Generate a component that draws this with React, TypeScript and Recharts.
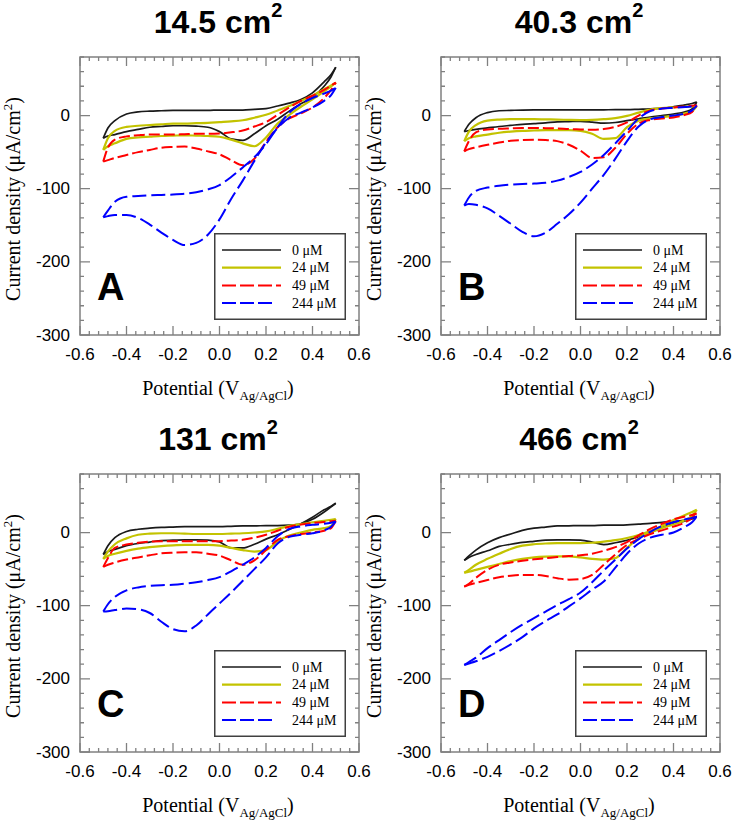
import React from "react";
import { LineChart, Line, XAxis, YAxis, Legend, Label } from "recharts";

// shared potential grid (V vs Ag/AgCl) for both sweep directions
const POTENTIAL = [
  -0.5, -0.48, -0.45, -0.4, -0.35, -0.3, -0.25, -0.2, -0.15, -0.1, -0.05, 0,
  0.05, 0.1, 0.15, 0.2, 0.25, 0.3, 0.35, 0.4, 0.45, 0.48, 0.5,
];

// current density (µA/cm²), anodic = forward sweep, cathodic = reverse sweep
// A: 14.5 cm2
const A0_AN = [-31, -17, -7, 2, 5, 6, 6.5, 7, 7, 7, 7, 7.5, 7.5, 7.5, 8.5, 9.5, 13, 17, 22, 31, 46, 56, 66];
const A0_CA = [-31, -28, -26, -22, -19, -16, -15, -14, -14, -14.5, -16, -22, -32, -34, -25, -14, -5, 6, 16, 25, 40, 53, 66];
const A24_AN = [-47, -31, -21, -15.5, -14, -13, -12, -11, -11, -10.5, -10, -9, -8, -6.5, -3, 1, 7, 13, 20, 27, 36, 41, 45];
const A24_CA = [-47, -42, -38, -32, -30, -29, -28, -27.5, -27, -27.5, -28, -29, -33, -38, -42, -30, -11, 1, 12, 22, 33, 40, 45];
const A49_AN = [-63, -44, -33, -28.5, -27, -26, -26, -26, -25.5, -25, -25, -24.5, -23, -20.5, -15, -9, 1, 11, 20, 27, 35, 41, 45];
const A49_CA = [-63, -61, -58, -54, -50, -47, -44, -43, -42.5, -45, -49, -53, -61, -68, -59, -36, -16, -4, 3, 11, 24, 35, 45];
const A244_AN = [-139, -130, -118, -111, -110, -109, -108.5, -108, -107, -105, -101, -95, -84, -71, -57, -39, -16, 4, 16, 24, 30, 34, 38];
const A244_CA = [-139, -137.5, -136, -136, -140, -149, -160, -170, -177, -174, -163, -142, -114, -89, -62, -37, -17, -3, 4, 11, 20, 28, 38];

// B: 40.3 cm2
const B0_AN = [-22, -12, -3, 4, 6.5, 7, 7.5, 7.7, 7.7, 7.7, 7.7, 7.7, 7.7, 7.8, 8, 8, 8.5, 9, 10, 12, 14.5, 16.5, 18.5];
const B0_CA = [-22, -20.5, -19, -17, -15, -13.5, -12, -11, -10, -8.6, -8.3, -8, -9, -10.5, -9.5, -7, -4.5, -2, 0, 2, 5, 9, 18.5];
const B24_AN = [-35, -22, -13, -7, -5.5, -5, -5, -5, -5.3, -5.5, -6, -6.3, -6, -5, -3.5, -0.5, 4, 8, 10, 11, 12, 12.5, 13];
const B24_CA = [-35, -31, -28.5, -26, -23.5, -22, -21, -20.5, -20, -20, -20, -21, -25, -32, -31, -16, -7, -4, -2, -0.5, 3, 6, 13];
const B49_AN = [-49, -35, -23, -19, -18, -17.5, -17, -17, -17.3, -17.7, -18.5, -19, -19.5, -18.5, -15.5, -9.5, 0, 7, 9.5, 11, 12.5, 13.5, 14];
const B49_CA = [-49, -46, -43.5, -40, -37, -34.5, -33.5, -33, -33.5, -35, -40, -48, -58, -57, -44, -25, -11, -6, -4, -2.7, 1, 5, 14];
const B244_AN = [-123, -112, -103, -98.5, -96, -94.5, -93.5, -93, -92, -89, -84, -77, -67, -54, -38, -21, -4, 6, 9.5, 10.5, 11.5, 12.5, 13.6];
const B244_CA = [-123, -121, -122, -127, -137, -148, -159, -165, -160, -148, -135, -119, -100, -81, -59, -35, -15, -5, -2, 0, 3, 7, 13.6];

// C: 131 cm2
const C0_AN = [-30, -18, -7, 1.5, 4.5, 6, 7, 7.5, 8, 8, 8, 8, 8.5, 9, 9, 9.5, 9.5, 10, 12, 18, 28, 35, 40];
const C0_CA = [-30, -26, -23, -18, -15, -13, -11, -10.5, -10, -10, -10.5, -13, -21, -21, -16, -9, -3, 4, 12, 21, 31, 36, 40];
const C24_AN = [-36, -26, -16, -8, -3, -1.5, -1, -1, -1.5, -2, -2, -2, -1.5, -1, 0, 1.5, 5, 9, 11.5, 14, 16, 17.5, 18.6];
const C24_CA = [-36, -32, -29, -25, -22, -20, -18.5, -17.5, -17, -17, -17, -18, -21, -24, -26, -24, -12, -4, 0, 3.6, 6, 9, 18.6];
const C49_AN = [-47, -35, -21, -16.5, -14, -12.5, -12, -12, -12, -12, -12, -11.8, -11, -10, -7, -3, 2.5, 8, 11, 13, 14.5, 15.5, 16];
const C49_CA = [-47, -44, -41, -37, -34, -31, -28.5, -27.5, -27, -27, -29, -31.5, -38, -44, -38, -24, -10, -5, -2, 0, 2.5, 6, 16];
const C244_AN = [-108, -98, -88, -79, -75, -73, -72, -71.5, -70, -68, -65, -61, -53, -44, -34, -21, -5, 5, 8.5, 10.5, 12, 13.5, 15];
const C244_CA = [-108, -107.5, -106, -104, -105, -110, -122, -132, -135, -127, -112, -97, -82, -66, -50, -34, -15, -6, -3, -1, 3, 8, 15];

// D: 466 cm2
const D0_AN = [-38, -32, -24, -14, -7, -2, 3, 6, 7.5, 9, 9.2, 9.5, 9.5, 10, 10, 10.5, 11.5, 12.5, 14, 15, 17, 19, 22];
const D0_CA = [-38, -34, -30, -25, -19, -16, -13.5, -12, -10.5, -10, -10, -10.5, -13, -16.5, -14, -10.5, -6, 0, 7, 12, 16, 19, 22];
const D24_AN = [-55, -51, -44, -36, -29, -22.5, -18, -16, -15, -14.5, -14.5, -14.5, -14, -12.5, -10.5, -7.5, -3.5, 2, 9, 17, 24, 28, 31];
const D24_CA = [-55, -53.5, -51, -47, -43, -39, -36, -34, -33, -32.6, -32.6, -34, -36, -37, -35, -21, -8, 0, 6, 11, 17, 23, 31];
const D49_AN = [-74, -70, -62, -51, -44, -41, -38.5, -36.5, -35, -33.6, -32, -31, -29, -25, -20, -13, -4, 5, 12, 18, 22, 24, 26];
const D49_CA = [-74, -71.5, -69, -65, -61, -59, -58, -58, -59.5, -62.5, -64.4, -63.5, -58, -44, -30, -17, -9, -2, 3, 8, 14, 20, 26];
const D244_AN = [-181, -177, -171, -158, -147, -136, -126, -117, -108, -99, -91, -82, -68, -52, -37, -22, -9, 1, 9, 14, 18, 20, 22];
const D244_CA = [-181, -179, -176, -170, -162, -153, -143, -131, -121, -112, -101, -90, -78, -67, -48, -29, -15, -7, -3, 0, 8, 14, 22];

const SERIES = [
  { label: "0 μM", color: "#1a1a1a", width: 1.7, dash: undefined, legendDash: undefined },
  { label: "24 μM", color: "#c3c300", width: 2.2, dash: undefined, legendDash: undefined },
  { label: "49 μM", color: "#ff0000", width: 2, dash: "11 4", legendDash: "14 4" },
  { label: "244 μM", color: "#0000ff", width: 2, dash: "14 5", legendDash: "14 4" },
];

const PANELS = [
  { letter: "A", title: "14.5", left: 0, top: 0, sweeps: [[A0_AN, A0_CA], [A24_AN, A24_CA], [A49_AN, A49_CA], [A244_AN, A244_CA]] },
  { letter: "B", title: "40.3", left: 361, top: 0, sweeps: [[B0_AN, B0_CA], [B24_AN, B24_CA], [B49_AN, B49_CA], [B244_AN, B244_CA]] },
  { letter: "C", title: "131", left: 0, top: 417, sweeps: [[C0_AN, C0_CA], [C24_AN, C24_CA], [C49_AN, C49_CA], [C244_AN, C244_CA]] },
  { letter: "D", title: "466", left: 361, top: 417, sweeps: [[D0_AN, D0_CA], [D24_AN, D24_CA], [D49_AN, D49_CA], [D244_AN, D244_CA]] },
];

const X_DOMAIN = [-0.6, 0.6];
const Y_DOMAIN = [-300, 80];
const X_TICKS = Array.from({ length: 31 }, (_, i) => Math.round((-0.6 + i * 0.04) * 100) / 100);
const Y_TICKS = Array.from({ length: 20 }, (_, i) => -300 + i * 20);

const CHART_W = 380;
const CHART_H = 411;
const PLOT_LEFT = 80;
const PLOT_TOP = 57;
const PLOT_W = 279;
const PLOT_H = 278;
const FRAME = "#808080";
const SANS = "'Liberation Sans', Arial, sans-serif";
const SERIF = "'Liberation Serif', 'Times New Roman', serif";

const isMajorX = (v: number) => Math.abs(v * 5 - Math.round(v * 5)) < 1e-6;
const isMajorY = (v: number) => v % 100 === 0;

function XTickLabel(props: any) {
  const { x, y, payload } = props;
  const v = Number(payload.value);
  if (!isMajorX(v)) return <g />;
  return (
    <text x={x} y={Number(y) + 19} textAnchor="middle" dominantBaseline="central" fontFamily={SANS} fontSize={17} fill="#000">
      {v.toFixed(1)}
    </text>
  );
}

function YTickLabel(props: any) {
  const { x, y, payload } = props;
  const v = Number(payload.value);
  if (!isMajorY(v)) return <g />;
  return (
    <text x={Number(x) - 10} y={y} textAnchor="end" dominantBaseline="central" fontFamily={SANS} fontSize={17} fill="#000">
      {v}
    </text>
  );
}

// boxed frame with inward ticks on all four sides, laid over the plot area
function Frame() {
  const px = (v: number) => 1 + ((v - X_DOMAIN[0]) / (X_DOMAIN[1] - X_DOMAIN[0])) * PLOT_W;
  const py = (i: number) => 1 + ((Y_DOMAIN[1] - i) / (Y_DOMAIN[1] - Y_DOMAIN[0])) * PLOT_H;
  let d = "";
  X_TICKS.forEach((v) => {
    const x = px(v);
    const len = isMajorX(v) ? 9 : 4;
    d += `M${x},${1 + PLOT_H}V${1 + PLOT_H - len}M${x},1V${1 + len}`;
  });
  Y_TICKS.forEach((i) => {
    const y = py(i);
    const len = isMajorY(i) ? 10 : 4;
    d += `M1,${y}H${1 + len}M${1 + PLOT_W},${y}H${1 + PLOT_W - len}`;
  });
  return (
    <svg
      width={PLOT_W + 2}
      height={PLOT_H + 2}
      style={{ position: "absolute", left: PLOT_LEFT - 1, top: PLOT_TOP - 1, overflow: "visible", pointerEvents: "none" }}
    >
      <path d={d} stroke={FRAME} strokeWidth={1.3} fill="none" />
      <rect x={1} y={1} width={PLOT_W} height={PLOT_H} fill="none" stroke={FRAME} strokeWidth={1.5} />
    </svg>
  );
}

function LegendBox() {
  return (
    <svg width={132} height={87} style={{ display: "block" }}>
      <rect x={0.75} y={0.75} width={130.5} height={85.5} fill="#fff" stroke="#404040" strokeWidth={1.5} />
      {SERIES.map((s, i) => {
        const cy = 17 + i * 17.7;
        return (
          <g key={s.label}>
            <line x1={8} x2={i === 3 ? 61 : 67} y1={cy} y2={cy} stroke={s.color} strokeWidth={s.width} strokeDasharray={s.legendDash} />
            <text x={78} y={cy} dominantBaseline="central" fontFamily={SERIF} fontSize={14} fill="#000">
              {s.label}
            </text>
          </g>
        );
      })}
    </svg>
  );
}

function Panel({ panel }: { panel: (typeof PANELS)[number] }) {
  return (
    <div style={{ position: "absolute", left: panel.left, top: panel.top, width: CHART_W, height: CHART_H }}>
      <LineChart width={CHART_W} height={CHART_H} margin={{ top: PLOT_TOP, right: CHART_W - PLOT_LEFT - PLOT_W, bottom: 0, left: 0 }}>
        <XAxis
          type="number"
          dataKey="v"
          domain={X_DOMAIN}
          allowDataOverflow
          ticks={X_TICKS}
          interval={0}
          height={CHART_H - PLOT_TOP - PLOT_H}
          tickSize={0}
          tickMargin={0}
          tickLine={false}
          axisLine={false}
          tick={<XTickLabel />}
        >
          <Label
            content={() => (
              <text x={218} y={395} textAnchor="middle" fontFamily={SERIF} fontSize={20} fill="#000">
                Potential (V
                <tspan fontSize={13} dy={5}>Ag/AgCl</tspan>
                <tspan dy={-5}>)</tspan>
              </text>
            )}
          />
        </XAxis>
        <YAxis
          type="number"
          dataKey="i"
          domain={Y_DOMAIN}
          allowDataOverflow
          ticks={Y_TICKS}
          interval={0}
          width={PLOT_LEFT}
          tickSize={0}
          tickMargin={0}
          tickLine={false}
          axisLine={false}
          tick={<YTickLabel />}
        >
          <Label
            content={() => (
              <text
                x={13}
                y={199}
                transform="rotate(-90, 13, 199)"
                textAnchor="middle"
                dominantBaseline="central"
                fontFamily={SERIF}
                fontSize={20}
                fill="#000"
              >
                Current density (μA/cm
                <tspan fontSize={13} dy={-6}>2</tspan>
                <tspan dy={6}>)</tspan>
              </text>
            )}
          />
        </YAxis>
        {SERIES.map((s, si) =>
          panel.sweeps[si].map((values, k) => (
            <Line
              key={`${s.label}-${k}`}
              data={POTENTIAL.map((v, i) => ({ v, i: values[i] }))}
              dataKey="i"
              type="monotone"
              stroke={s.color}
              strokeWidth={s.width}
              strokeDasharray={s.dash}
              dot={false}
              activeDot={false}
              legendType="none"
              isAnimationActive={false}
            />
          ))
        )}
        <Legend
          layout="vertical"
          align="center"
          verticalAlign="middle"
          content={() => <LegendBox />}
          wrapperStyle={{ left: 214, top: 233, width: 132, height: 87 }}
        />
      </LineChart>
      <Frame />
      <div
        style={{
          position: "absolute",
          left: 0,
          top: 6,
          width: 436,
          textAlign: "center",
          fontFamily: SANS,
          fontWeight: "bold",
          fontSize: 32,
          lineHeight: "32px",
          whiteSpace: "nowrap",
          color: "#000",
        }}
      >
        {panel.title} cm
        <span style={{ fontSize: 20, position: "relative", top: -16 }}>2</span>
      </div>
      <div
        style={{
          position: "absolute",
          left: 97,
          top: 268,
          fontFamily: SANS,
          fontWeight: "bold",
          fontSize: 38,
          lineHeight: "38px",
          color: "#000",
        }}
      >
        {panel.letter}
      </div>
    </div>
  );
}

export default function App() {
  return (
    <div style={{ position: "absolute", left: 0, top: 0, width: 733, height: 823, background: "#fff", overflow: "hidden" }}>
      {PANELS.map((p) => (
        <Panel key={p.letter} panel={p} />
      ))}
    </div>
  );
}
